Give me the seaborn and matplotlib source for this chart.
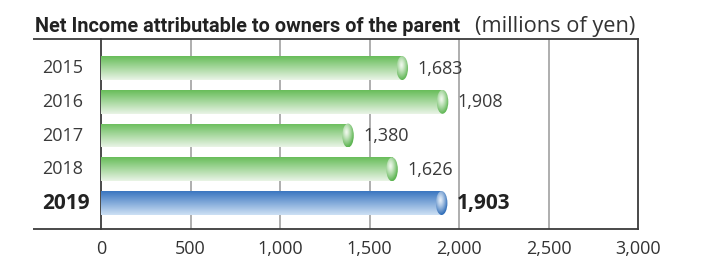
import numpy as np
import pandas as pd
import matplotlib
matplotlib.use("Agg")
import matplotlib.pyplot as plt
import matplotlib.transforms as mtrans
import seaborn as sns
from matplotlib.patches import Ellipse
from matplotlib.colors import to_rgb

# ---- data ----
years = ["2015", "2016", "2017", "2018", "2019"]
values = [1683, 1908, 1380, 1626, 1903]
value_labels = ["1,683", "1,908", "1,380", "1,626", "1,903"]
xticks = [0, 500, 1000, 1500, 2000, 2500, 3000]
xtick_labels = ["0", "500", "1,000", "1,500", "2,000", "2,500", "3,000"]
title_main = "Net Income attributable to owners of the parent"
title_unit = "(millions of yen)"

sns.set_theme(style="white")
plt.rcParams["font.family"] = ["Open Sans", "DejaVu Sans"]

df = pd.DataFrame({"year": years, "value": values})

W, H = 713, 260
fig = plt.figure(figsize=(W / 100, H / 100), dpi=100)
ax_l, ax_r, ax_t, ax_b = 101, 638, 39, 229
ax = fig.add_axes([ax_l / W, (H - ax_b) / H, (ax_r - ax_l) / W, (ax_b - ax_t) / H])

BAR_H = 0.71
sns.barplot(data=df, x="value", y="year", orient="h", ax=ax, width=BAR_H,
            color="#6cbf5e", saturation=1, zorder=3)
bars = list(ax.patches)

green_top, green_bot = to_rgb("#68bd5a"), to_rgb("#e9f4e6")
blue_top, blue_bot = to_rgb("#3a76c0"), to_rgb("#cde0f4")
green_dark, green_light = to_rgb("#5db552"), to_rgb("#f2f9ef")
blue_dark, blue_light = to_rgb("#2f6db8"), to_rgb("#e6eff9")

XMAX = 3000
px_per_unit = (ax_r - ax_l) / XMAX
cap_w = 11.5 / px_per_unit

for i, p in enumerate(bars):
    is_last = (i == len(bars) - 1)
    top, bot = (blue_top, blue_bot) if is_last else (green_top, green_bot)
    x0, y0, w, h = p.get_x(), p.get_y(), p.get_width(), p.get_height()
    p.set_facecolor("none")
    p.set_edgecolor("none")
    n = 64
    t = np.linspace(0, 1, n)[:, None]
    grad = (1 - t) * np.array(top)[None, :] + t * np.array(bot)[None, :]
    grad = grad[:, None, :]
    im = ax.imshow(grad, extent=[x0, x0 + w, y0 + h, y0], origin="upper",
                   aspect="auto", zorder=3, interpolation="bilinear")
    im.set_clip_path(p)
    # end cap
    cx, cy = x0 + w, y0 + h / 2
    ell = Ellipse((cx, cy), width=cap_w, height=h, facecolor="none",
                  edgecolor="none", zorder=4)
    ax.add_patch(ell)
    dark, light = (blue_dark, blue_light) if is_last else (green_dark, green_light)
    m = 64
    u = np.linspace(-1, 1, m)[None, :]
    v = np.linspace(-1, 1, m)[:, None]
    r = np.sqrt((u + 0.25) ** 2 + (v + 0.25) ** 2)
    s = np.clip(r / 1.25, 0, 1)[:, :, None] ** 1.2
    cimg = (1 - s) * np.array(light)[None, None, :] + s * np.array(dark)[None, None, :]
    cim = ax.imshow(cimg, extent=[cx - cap_w / 2, cx + cap_w / 2, y0 + h, y0],
                    origin="upper", aspect="auto", zorder=4,
                    interpolation="bilinear")
    cim.set_clip_path(ell)

    # value label
    if is_last:
        ax.annotate(value_labels[i], (cx, cy), xytext=(11, -0.5),
                    textcoords="offset points", va="center", ha="left",
                    fontsize=15, fontweight="bold", color="#222222", zorder=5)
    else:
        ax.annotate(value_labels[i], (cx, cy), xytext=(11, -0.5),
                    textcoords="offset points", va="center", ha="left",
                    fontsize=13, color="#3a3a3a", zorder=5)

ax.set_xlim(0, XMAX)
ax.set_ylim(4.77, -0.86)
ax.set_xticks(xticks)
ax.set_xticklabels(xtick_labels, fontsize=13, color="#333333")
ax.tick_params(axis="x", length=0, pad=8)
ax.set_yticks([])
ax.set_xlabel("")
ax.set_ylabel("")

for g in xticks[1:-1]:
    ax.axvline(g, color="#a8a8a8", lw=1.3, zorder=1)

frame_c = "#3c3c3c"
for side in ["left", "right", "top", "bottom"]:
    ax.spines[side].set_visible(True)
    ax.spines[side].set_color(frame_c)
    ax.spines[side].set_linewidth(1.3)

# extend top and bottom frame lines to the left
ext = (33 - ax_l) / (ax_r - ax_l)
for yy in (0, 1):
    ax.plot([ext, 0], [yy, yy], transform=ax.transAxes, color=frame_c,
            lw=1.3, clip_on=False, solid_capstyle="butt")

# year labels, left-aligned
trans = mtrans.blended_transform_factory(ax.transAxes, ax.transData)
lab_x = (42 - ax_l) / (ax_r - ax_l)
for i, y in enumerate(years):
    if i == len(years) - 1:
        ax.text(lab_x, i, y, transform=trans, ha="left", va="center",
                fontsize=15, fontweight="bold", color="#222222")
    else:
        ax.text(lab_x, i, y, transform=trans, ha="left", va="center",
                fontsize=13, color="#3a3a3a")

# title (fit widths to the reference)
renderer = fig.canvas.get_renderer()


def fitted_text(x0, x1, s, fs, **kw):
    t = fig.text(x0 / W, (H - 32) / H, s, ha="left", va="baseline",
                 fontsize=fs, **kw)
    wpx = t.get_window_extent(renderer).width
    t.set_fontsize(fs * (x1 - x0) / wpx)
    return t


fitted_text(35, 463, title_main, 15, fontweight="bold", color="#222222",
            family=["Roboto", "Open Sans"])
fitted_text(475, 636, title_unit, 14, color="#333333")

fig.savefig("out.png", dpi=100)
